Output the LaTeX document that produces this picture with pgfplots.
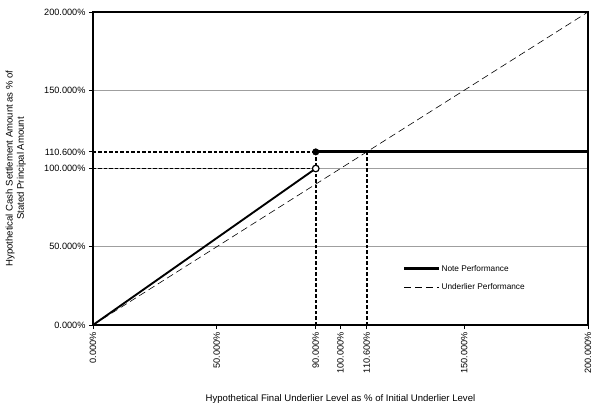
\documentclass[border=0pt]{standalone}
\usepackage{pgfplots}
\pgfplotsset{compat=1.18}
\usepackage{fontspec}
\setmainfont{Liberation Sans}
\begin{document}
\begin{tikzpicture}[x=1bp,y=1bp]
\path[use as bounding box] (-93bp,-80bp) rectangle (506bp,325bp);
\begin{axis}[
  at={(0,0)}, anchor=south west,
  scale only axis, width=495bp, height=313bp,
  xmin=0, xmax=200, ymin=0, ymax=200,
  axis line style={line width=1.8pt},
  xtick={0,50,90,100,110.6,150,200},
  xticklabels={0.000\%,50.000\%,90.000\%,100.000\%,110.600\%,150.000\%,200.000\%},
  ytick={0,50,100,150,200},
  yticklabels={0.000\%,50.000\%,100.000\%,150.000\%,200.000\%},
  extra y ticks={110.6},
  extra y tick labels={110.600\%},
  extra y tick style={grid=none},
  xtick pos=bottom, ytick pos=left,
  ymajorgrids,
  grid style={gray!75, line width=0.6pt},
  tick align=outside,
  major tick length=4bp,
  tick style={black, line width=1pt},
  x tick label style={rotate=90, anchor=east, font=\fontsize{9.2}{10}\selectfont},
  y tick label style={font=\fontsize{9.2}{10}\selectfont},
  xlabel={Hypothetical Final Underlier Level as \% of Initial Underlier Level},
  ylabel={Hypothetical Cash Settlement Amount as \% of\\Stated Principal Amount},
  ylabel style={align=center, font=\fontsize{9.6}{11.5}\selectfont, at={(axis description cs:-0.156,0.5)}, anchor=center},
  xlabel style={font=\fontsize{9.6}{10}\selectfont, at={(axis description cs:0.5,-0.235)}, anchor=center},
  legend style={draw=none, fill=none, at={(axis cs:125,39)}, anchor=north west,
    font=\fontsize{8.3}{9}\selectfont, row sep=9pt, legend cell align=left,
    inner sep=0pt, nodes={inner sep=1pt}},
  legend image code/.code={\draw[#1] (0cm,0cm) -- (35bp,0cm);},
  clip=false,
]
% dashed guide lines
\addplot[black, line width=1.6pt, dash pattern=on 3.5pt off 2pt, forget plot] coordinates {(0,100) (90,100)};
\addplot[black, line width=1.6pt, dash pattern=on 3.5pt off 2pt, forget plot] coordinates {(0,110.6) (90,110.6)};
\addplot[black, line width=1.6pt, dash pattern=on 3.5pt off 2pt, forget plot] coordinates {(90,0) (90,110.6)};
\addplot[black, line width=1.6pt, dash pattern=on 3.5pt off 2pt, forget plot] coordinates {(110.6,0) (110.6,110.6)};
% note performance
\addplot[black, line width=3pt, forget plot] coordinates {(90,110.6) (200,110.6)};
\addplot[black, line width=1.9pt, forget plot] coordinates {(0,0) (90,100)};
\addlegendimage{black, line width=3pt}
\addlegendentry{Note Performance}
% underlier
\addplot[black, line width=0.6pt, dash pattern=on 7pt off 4pt] coordinates {(0,0) (200,200)};
\addlegendentry{Underlier Performance}
% markers
\addplot[only marks, mark=*, mark size=3.3pt, mark options={fill=white, draw=black, line width=1.2pt}, forget plot] coordinates {(90,100)};
\addplot[only marks, mark=*, mark size=3.3pt, mark options={fill=black, draw=black}, forget plot] coordinates {(90,110.6)};
\end{axis}
\end{tikzpicture}
\end{document}
